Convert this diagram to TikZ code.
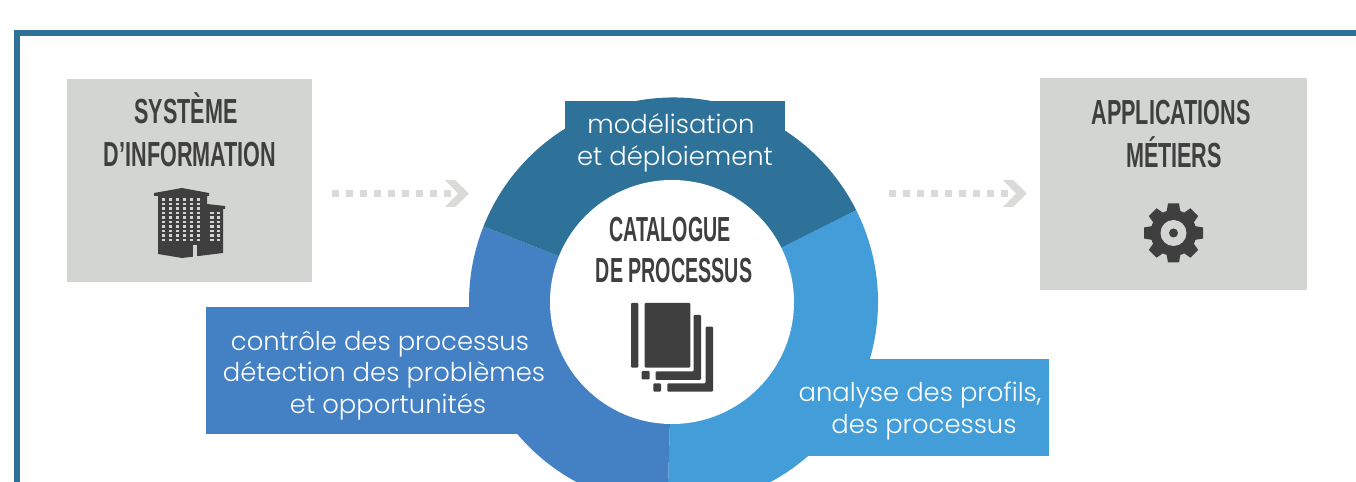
\documentclass[tikz,border=0pt]{standalone}
\usepackage{fontspec}
\newfontfamily\headfont[FakeStretch=0.62]{Liberation Sans Bold}
\newfontfamily\catfont[FakeStretch=0.565]{Liberation Sans Bold}
\newfontfamily\labelfont{Poppins Light}
\definecolor{frameblue}{HTML}{2E7299}
\definecolor{midblue}{HTML}{4480C4}
\definecolor{lightblue}{HTML}{439DD9}
\definecolor{boxgray}{HTML}{D3D5D2}
\definecolor{arrowgray}{HTML}{DADBD9}
\definecolor{icongray}{HTML}{3F3F3F}
\begin{document}
\begin{tikzpicture}[x=0.01cm, y=-0.01cm]

\tikzstyle{head}=[anchor=base, inner sep=0pt, text=icongray, font=\fontsize{9.9}{11}\headfont];
\tikzstyle{cat}=[head, font=\fontsize{9.9}{11}\catfont];
\tikzstyle{lab}=[anchor=base, inner sep=0pt, text=white, font=\fontsize{7.35}{9}\labelfont];
\tikzstyle{dots}=[draw=arrowgray, line width=0.075cm, dash pattern=on 0.07cm off 0.07cm];
\tikzstyle{ico}=[fill=icongray, draw=none];
\tikzstyle{hole}=[fill=boxgray, draw=none];
\tikzstyle{page}=[ico, rounded corners=0.01cm];

\clip (0, 0) rectangle (1356, 482);

\coordinate (frame_b) at (17, 482);
\coordinate (frame_c) at (17, 33);
\coordinate (frame_r) at (1356, 33);
\draw[frameblue, line width=0.055cm] (frame_b) -- (frame_c) -- (frame_r);

% boxes
\fill[boxgray] (67, 79) rectangle (312, 282);
\fill[boxgray] (1040, 78) rectangle (1307, 290);
\node[head] (sys1) at (186, 124) {SYSTÈME};
\node[head] (sys2) at (190, 167) {D’INFORMATION};
\node[head] (app1) at (1171, 125) {APPLICATIONS};
\node[head] (app2) at (1174, 168) {MÉTIERS};

% building
\fill[ico] (158, 196) -- (154, 196) -- (154, 193) -- (182, 188) -- (209, 193) -- (209, 196)
  -- (207, 196) -- (207, 204) -- (225, 206) -- (225, 209) -- (223, 209) -- (223, 253) -- (207, 255)
  -- (182, 258) -- (158, 254) -- cycle;
\foreach \i in {0,...,5}
  \foreach \j in {0,...,9}
    \fill[hole] (161.5+7*\i, 198.5+4.5*\j) rectangle +(3.8, 2.4);
\foreach \i in {0,1}
  \foreach \j in {0,...,6}
    \fill[hole] (210+6.5*\i, 212+4.5*\j) rectangle +(3.8, 2.4);
\fill[hole] (193, 245) rectangle (197, 258);

% gear
\fill[ico] (1173.5, 233) circle (23);
\foreach \a in {0,45,...,315}
  \fill[ico, rotate around={\a:(1173.5, 233)}] (1168, 203.5) -- (1179, 203.5) -- (1181, 215) -- (1166, 215) -- cycle;
\fill[hole] (1173.5, 233) circle (13);
\fill[ico] (1173.5, 233) circle (4.5);

% arrows
\coordinate (in_a) at (332, 193.5);
\coordinate (in_b) at (451, 193.5);
\coordinate (out_a) at (889, 193.5);
\coordinate (out_b) at (1008, 193.5);
\draw[dots] (in_a) -- (in_b);
\draw[dots] (out_a) -- (out_b);
\fill[arrowgray] (445, 180) -- (455, 180) -- (469, 193.5) -- (455, 207) -- (445, 207) -- (458, 193.5) -- cycle;
\fill[arrowgray] (1003, 180) -- (1013, 180) -- (1027, 193.5) -- (1013, 207) -- (1003, 207) -- (1016, 193.5) -- cycle;

% ring
\begin{scope}[shift={(673.5, 302)}]
\fill[lightblue] (0, 0) -- (-26.7:204.5) arc[start angle=-26.7, end angle=91.7, radius=204.5] -- cycle;
\fill[midblue] (0, 0) -- (91.7:204.5) arc[start angle=91.7, end angle=201.7, radius=204.5] -- cycle;
\fill[frameblue] (0, 0) -- (201.7:204.5) arc[start angle=201.7, end angle=333.3, radius=204.5] -- cycle;
\end{scope}
\fill[frameblue] (565, 101) rectangle (785, 140);
\fill[midblue] (206, 307) rectangle (600, 434);
\fill[lightblue] (750, 359) rectangle (1049, 456);
\fill[white] (672, 302) circle (122);

% labels
\node[lab] (top1) at (671, 134) {modélisation};
\node[lab] (top2) at (675, 166) {et déploiement};
\node[lab] (left1) at (380, 351) {contrôle des processus};
\node[lab] (left2) at (384, 382) {détection des problèmes};
\node[lab] (left3) at (388, 414) {et opportunités};
\node[lab] (right1) at (920, 402) {analyse des profils,};
\node[lab] (right2) at (924, 434) {des processus};
\node[cat] (cat1) at (670, 242) {CATALOGUE};
\node[cat] (cat2) at (674, 283) {DE PROCESSUS};

% documents
\fill[page] (631, 303) rectangle (638.3, 367.7);
\fill[page] (644.7, 303) rectangle (690.3, 367.7);
\fill[page] (693.7, 315) -- (701, 315) -- (701, 380) -- (655.7, 380) -- (655.7, 371.5) -- (693.7, 371.5) -- cycle;
\fill[page] (641.7, 371) rectangle (649.7, 379.5);
\fill[page] (705.7, 326.7) -- (713, 326.7) -- (713, 391.7) -- (667.3, 391.7) -- (667.3, 383.3) -- (705.7, 383.3) -- cycle;
\fill[page] (653.3, 383.3) rectangle (661, 391.7);
\end{tikzpicture}
\end{document}
